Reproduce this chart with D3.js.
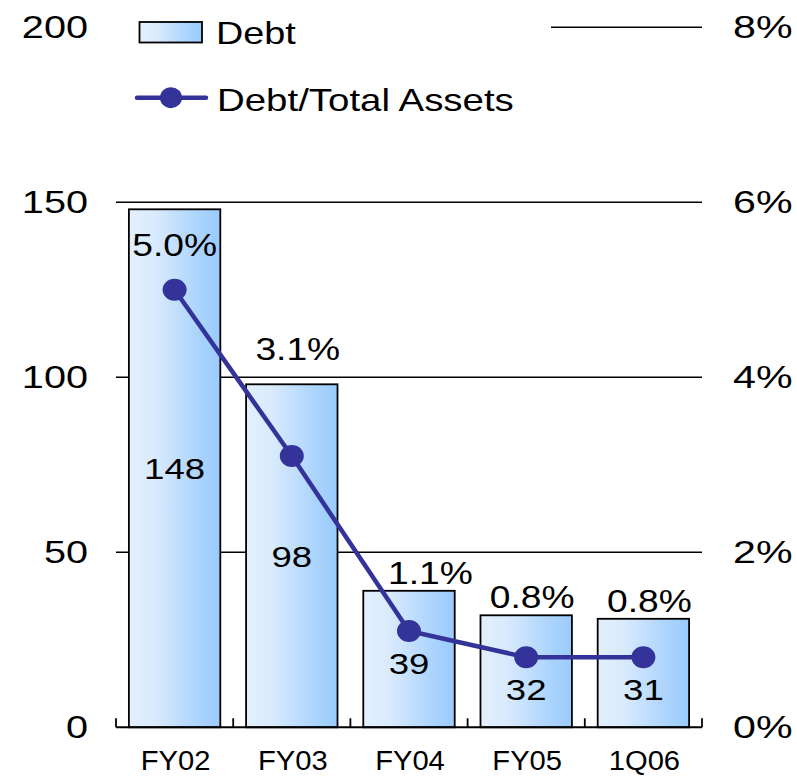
<!DOCTYPE html>
<html>
<head>
<meta charset="utf-8">
<script src="https://cdn.jsdelivr.net/npm/d3@7"></script>
<style>
  body { margin: 0; background: #fff; }
  text { font-family: "Liberation Sans", Arial, sans-serif; fill: #000; }
</style>
</head>
<body>
<div id="chart"></div>
<script>
// data
var periods = ["FY02", "FY03", "FY04", "FY05", "1Q06"];
var debt = [148, 98, 39, 32, 31];
var debtRatio = [5.0, 3.1, 1.1, 0.8, 0.8];
var leftTicks = [0, 50, 100, 150, 200];
var rightTicks = [0, 2, 4, 6, 8];

var W = 797, H = 776;
var plotLeft = 116, plotRight = 702;

var svg = d3.select("#chart").append("svg")
    .attr("width", W)
    .attr("height", H);

var x = d3.scaleBand()
    .domain(periods)
    .range([plotLeft, plotRight])
    .paddingInner(0.22)
    .paddingOuter(0.11);

var yL = d3.scaleLinear().domain([0, 200]).range([727.3, 27.3]);
var yR = d3.scaleLinear().domain([0, 8]).range([727.3, 27.3]);

function cxOf(i) { return x(periods[i]) + x.bandwidth() / 2; }

// stretched text helper (the source picture is wider than normal Arial)
function label(g, txt, px, py, size, sx, anchor) {
    return g.append("text")
        .attr("transform", "translate(" + px + "," + py + ") scale(" + sx + ",1)")
        .attr("text-anchor", anchor || "middle")
        .style("font-size", size + "px")
        .text(txt);
}

// gradient for bars
var defs = svg.append("defs");
var grad = defs.append("linearGradient").attr("id", "barGrad")
    .attr("x1", "0%").attr("x2", "100%").attr("y1", "0%").attr("y2", "0%");
grad.append("stop").attr("offset", "0%").attr("stop-color", "#e3f0fd");
grad.append("stop").attr("offset", "30%").attr("stop-color", "#d8eafd");
grad.append("stop").attr("offset", "75%").attr("stop-color", "#acd4fc");
grad.append("stop").attr("offset", "100%").attr("stop-color", "#9acbfd");

var gridVals = leftTicks.filter(function(d) { return d > 0; });

// gridlines
svg.append("g").selectAll("line")
    .data(gridVals)
    .enter().append("line")
    .attr("x1", plotLeft).attr("x2", plotRight)
    .attr("y1", function(d) { return yL(d); })
    .attr("y2", function(d) { return yL(d); })
    .attr("stroke", "#000")
    .attr("stroke-width", 1.5);

// bars
svg.append("g").selectAll("rect")
    .data(debt)
    .enter().append("rect")
    .attr("x", function(d, i) { return x(periods[i]); })
    .attr("width", x.bandwidth())
    .attr("y", function(d) { return yL(d); })
    .attr("height", function(d) { return yL(0) - yL(d); })
    .attr("fill", "url(#barGrad)")
    .attr("stroke", "#000")
    .attr("stroke-width", 1.8);

// x axis line and ticks at category boundaries
var axisG = svg.append("g");
axisG.append("line")
    .attr("x1", plotLeft).attr("x2", plotRight)
    .attr("y1", yL(0)).attr("y2", yL(0))
    .attr("stroke", "#000").attr("stroke-width", 2);
var step = x.step();
var bounds = d3.range(periods.length + 1).map(function(i) { return plotLeft + i * step; });
axisG.selectAll(".tk").data(bounds).enter().append("line")
    .attr("x1", function(d) { return d; }).attr("x2", function(d) { return d; })
    .attr("y1", yL(0)).attr("y2", yL(0) - 9)
    .attr("stroke", "#000").attr("stroke-width", 1.8);

// x labels
periods.forEach(function(p) {
    label(svg, p, x(p) + x.bandwidth() / 2 + 1, 770, 27, 1.08);
});

// left and right axis labels
leftTicks.forEach(function(t) {
    label(svg, t, 88, yL(t) + 11, 30.5, 1.3, "end");
});
rightTicks.forEach(function(t) {
    label(svg, t + "%", 733, yR(t) + 11, 30.5, 1.35, "start");
});

// bar value labels (middle of bar, pushed below the marker if they would collide)
debt.forEach(function(d, i) {
    var mid = (yL(d) + yL(0)) / 2;
    var cy = Math.max(mid, yR(debtRatio[i]) + 32);
    label(svg, d, cxOf(i), cy + 11, 30, 1.22);
});

// line series
var line = d3.line()
    .x(function(d, i) { return cxOf(i); })
    .y(function(d) { return yR(d); });

svg.append("path")
    .datum(debtRatio)
    .attr("d", line)
    .attr("fill", "none")
    .attr("stroke", "#333399")
    .attr("stroke-width", 4.5);

svg.append("g").selectAll("ellipse")
    .data(debtRatio)
    .enter().append("ellipse")
    .attr("cx", function(d, i) { return cxOf(i); })
    .attr("cy", function(d) { return yR(d); })
    .attr("rx", 12)
    .attr("ry", 11)
    .attr("fill", "#333399");

// ratio labels: just above the bar, moved off gridlines and off the line,
// inside the tallest bar
debtRatio.forEach(function(d, i) {
    var cx = cxOf(i) + 6;
    var top = yL(debt[i]);
    var cy = top - 18;
    if (cy < yL(150) + 20) {
        cy = top + 36;
        cx = cxOf(i);
    } else {
        gridVals.forEach(function(g) {
            var gy = yL(g);
            if (gy > cy - 14 && gy < cy + 16) cy = gy - 28;
        });
    }
    var t = label(svg, d.toFixed(1) + "%", cx, cy + 11, 31, 1.2);
    var half = t.node().getBBox().width * 1.2 / 2;
    if (i > 0) {
        // where the incoming segment crosses the label's lower edge
        var x0 = cxOf(i - 1), y0 = yR(debtRatio[i - 1]);
        var x1 = cxOf(i), y1 = yR(d);
        var yb = cy + 12;
        if ((yb - y0) * (yb - y1) < 0) {
            var xl = x0 + (yb - y0) / (y1 - y0) * (x1 - x0);
            if (cx - half < xl + 10) {
                cx = xl + 10 + half;
                t.attr("transform", "translate(" + cx + "," + (cy + 11) + ") scale(1.2,1)");
            }
        }
    }
});

// legend (white box hides the top gridline)
var lg = svg.append("g");
lg.append("rect")
    .attr("x", 112).attr("y", 8).attr("width", 439).attr("height", 118)
    .attr("fill", "#fff");
lg.append("rect")
    .attr("x", 139.5).attr("y", 22).attr("width", 62.5).attr("height", 20.5)
    .attr("fill", "url(#barGrad)")
    .attr("stroke", "#000").attr("stroke-width", 1.8);
label(lg, "Debt", 216, 43.5, 31, 1.22, "start");
lg.append("line")
    .attr("x1", 137).attr("x2", 206).attr("y1", 97.7).attr("y2", 97.7)
    .attr("stroke", "#333399").attr("stroke-width", 4.5).attr("stroke-linecap", "round");
lg.append("ellipse")
    .attr("cx", 171).attr("cy", 97.7).attr("rx", 11).attr("ry", 10.5)
    .attr("fill", "#333399");
label(lg, "Debt/Total Assets", 217, 111, 31.5, 1.22, "start");
</script>
</body>
</html>
